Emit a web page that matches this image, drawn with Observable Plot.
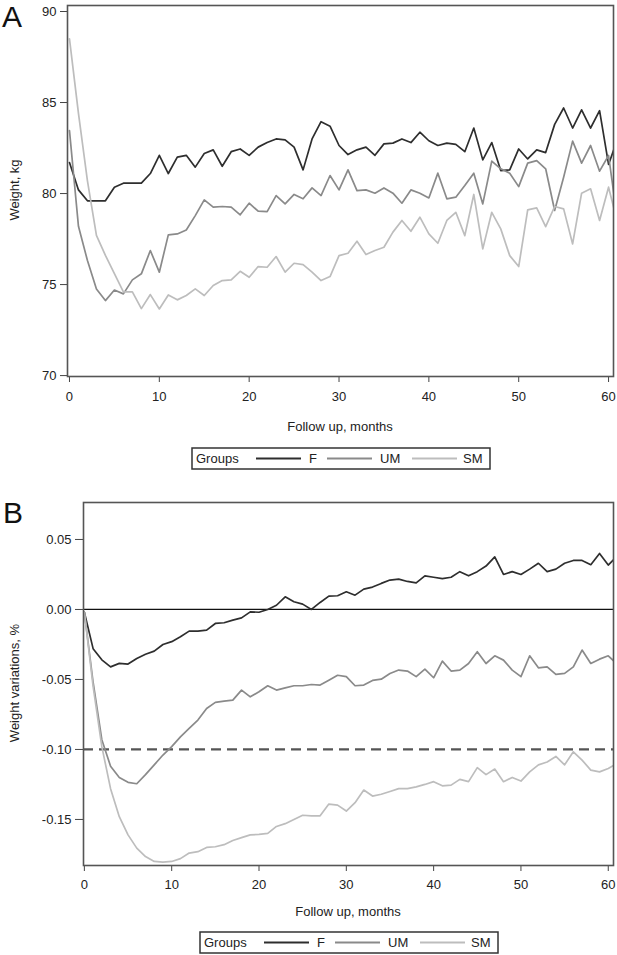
<!DOCTYPE html>
<html>
<head>
<meta charset="utf-8">
<script src="https://cdn.jsdelivr.net/npm/d3@7"></script>
<script src="https://cdn.jsdelivr.net/npm/@observablehq/plot@0.6"></script>
<style>
  html, body { margin: 0; padding: 0; background: #fff; }
  #root { position: relative; width: 617px; height: 955px; overflow: hidden; font-family: "Liberation Sans", Arial, sans-serif; color: #222; }
  .abs { position: absolute; }
  .panel-letter { font-size: 30px; line-height: 1; color: #111; }
  .ylab { font-size: 13px; transform: rotate(-90deg); transform-origin: center center; white-space: nowrap; text-align: center; }
  .xlab { font-size: 13px; white-space: nowrap; text-align: center; }
</style>
</head>
<body>
<div id="root"></div>
<script>
// ---- data ----
const months = d3.range(0, 62);
const groups = ["F", "UM", "SM"];
const groupColors = ["#2e2e2e", "#8a8a8a", "#bdbdbd"];
const xTicks = [0, 10, 20, 30, 40, 50, 60];
const weightTicks = [70, 75, 80, 85, 90];
const variationTicks = [-0.15, -0.10, -0.05, 0.00, 0.05];

// Panel A: weight, kg
const weightF = [81.7, 80.2, 79.6, 79.6, 79.6, 80.35, 80.57, 80.57, 80.57, 81.1,
  82.1, 81.1, 82.0, 82.1, 81.45, 82.2, 82.4, 81.5, 82.3, 82.45,
  82.1, 82.55, 82.8, 83.0, 82.95, 82.55, 81.3, 83.0, 83.95, 83.7,
  82.64, 82.14, 82.4, 82.55, 82.1, 82.73, 82.77, 83.0, 82.8, 83.37,
  82.9, 82.64, 82.77, 82.7, 82.3, 83.6, 81.85, 82.8, 81.26, 81.3,
  82.45, 81.9, 82.4, 82.25, 83.8, 84.7, 83.6, 84.6, 83.6, 84.55,
  81.6, 83.0];
const weightUM = [83.46, 78.2, 76.32, 74.76, 74.12, 74.7, 74.49, 75.26, 75.59, 76.87,
  75.68, 77.73, 77.78, 78.0, 78.79, 79.65, 79.25, 79.29, 79.25, 78.83,
  79.47, 79.03, 79.01, 79.89, 79.43, 79.95, 79.71, 80.31, 79.89, 80.99,
  80.2, 81.3, 80.16, 80.2, 80.02, 80.31, 80.02, 79.47, 80.2, 80.02,
  79.76, 81.12, 79.71, 79.8, 80.44, 81.12, 79.43, 81.78, 81.36, 81.12,
  80.38, 81.67, 81.81, 81.36, 79.07, 80.9, 82.88, 81.67, 82.64, 81.23,
  82.09, 78.5];
const weightSM = [88.5, 84.4, 80.7, 77.7, 76.6, 75.6, 74.6, 74.6, 73.68, 74.45,
  73.66, 74.43, 74.16, 74.4, 74.76, 74.4, 74.95, 75.22, 75.26, 75.73,
  75.4, 75.99, 75.95, 76.54, 75.68, 76.17, 76.1, 75.68, 75.22, 75.44,
  76.59, 76.72, 77.38, 76.65, 76.87, 77.05, 77.88, 78.52, 77.93, 78.7,
  77.78, 77.27, 78.52, 78.97, 77.69, 79.95, 76.96, 78.97, 78.06, 76.59,
  75.99, 79.1, 79.21, 78.18, 79.29, 79.16, 77.23, 80.02, 80.26, 78.52,
  80.35, 78.4];

// Panel B: weight variations, %
const variationF = [-0.002, -0.028, -0.036, -0.041, -0.0385, -0.039, -0.035, -0.032, -0.0298, -0.025,
  -0.023, -0.0195, -0.0155, -0.0155, -0.0148, -0.010, -0.0095, -0.0076, -0.006, -0.0017,
  -0.002, 0.000, 0.003, 0.009, 0.0055, 0.0038, 0.000, 0.005, 0.0095, 0.0098,
  0.0126, 0.0102, 0.0145, 0.016, 0.0186, 0.021, 0.0217, 0.020, 0.019, 0.024,
  0.023, 0.022, 0.023, 0.027, 0.024, 0.027, 0.031, 0.0376, 0.025, 0.027,
  0.025, 0.0288, 0.033, 0.027, 0.0288, 0.033, 0.035, 0.035, 0.032, 0.040,
  0.0317, 0.038];
const variationUM = [-0.002, -0.052, -0.093, -0.112, -0.120, -0.1235, -0.1245, -0.118, -0.111, -0.104,
  -0.098, -0.091, -0.085, -0.079, -0.0707, -0.0664, -0.0655, -0.0648, -0.0576, -0.0624,
  -0.0588, -0.0545, -0.0576, -0.056, -0.0545, -0.0545, -0.0536, -0.054, -0.0505, -0.047,
  -0.048, -0.0545, -0.054, -0.0507, -0.0498, -0.0457, -0.0433, -0.044, -0.048, -0.0426,
  -0.0488, -0.0369, -0.044, -0.0433, -0.0386, -0.0302, -0.0386, -0.0331, -0.0362, -0.0433,
  -0.048, -0.0331, -0.0417, -0.041, -0.0464, -0.0457, -0.041, -0.029, -0.0386, -0.0355,
  -0.0331, -0.039];
const variationSM = [-0.002, -0.055, -0.098, -0.128, -0.148, -0.161, -0.1705, -0.1765, -0.180, -0.1805,
  -0.180, -0.178, -0.174, -0.173, -0.170, -0.1695, -0.168, -0.165, -0.163, -0.161,
  -0.1607, -0.160, -0.155, -0.153, -0.150, -0.147, -0.1474, -0.1474, -0.139, -0.1398,
  -0.144, -0.138, -0.129, -0.1333, -0.132, -0.130, -0.128, -0.128, -0.1267, -0.125,
  -0.123, -0.126, -0.1255, -0.1214, -0.123, -0.113, -0.118, -0.114, -0.123, -0.120,
  -0.1226, -0.116, -0.111, -0.109, -0.105, -0.111, -0.1017, -0.1076, -0.1148, -0.116,
  -0.1136, -0.110];

// ---- build tables ----
function longTable(seriesList) {
  const rows = [];
  seriesList.forEach((vals, gi) => {
    vals.forEach((v, i) => rows.push({month: months[i], value: v, group: groups[gi]}));
  });
  return rows;
}
const tableA = longTable([weightF, weightUM, weightSM]);
const tableB = longTable([variationF, variationUM, variationSM]);

const FONT = '"Liberation Sans", Arial, sans-serif';
const root = document.getElementById("root");

function place(el, left, top) {
  el.style.position = "absolute";
  el.style.left = left + "px";
  el.style.top = top + "px";
  root.appendChild(el);
  return el;
}

function makeText(cls, txt, left, top, w, h) {
  const d = document.createElement("div");
  d.className = "abs " + cls;
  d.textContent = txt;
  d.style.left = left + "px";
  d.style.top = top + "px";
  if (w != null) d.style.width = w + "px";
  if (h != null) { d.style.height = h + "px"; d.style.lineHeight = h + "px"; }
  root.appendChild(d);
  return d;
}

function makeLegend(left, top) {
  const W = 298, H = 21;
  const svg = d3.create("svg").attr("width", W + 2).attr("height", H + 2)
    .style("font-family", FONT).style("font-size", "13px");
  svg.append("rect").attr("x", 1).attr("y", 1).attr("width", W).attr("height", H)
    .attr("fill", "white").attr("stroke", "#333").attr("stroke-width", 1.5);
  svg.append("text").attr("x", 5).attr("y", 16).attr("fill", "#222").text("Groups");
  const lineX = [65, 136, 221];
  const labX = [118, 189, 272];
  groups.forEach((g, i) => {
    svg.append("line").attr("x1", lineX[i]).attr("x2", lineX[i] + 45)
      .attr("y1", 11.5).attr("y2", 11.5).attr("stroke", groupColors[i]).attr("stroke-width", 2);
    svg.append("text").attr("x", labX[i]).attr("y", 16).attr("fill", "#222").text(g);
  });
  place(svg.node(), left, top);
}

// ---- Panel A ----
const plotA = Plot.plot({
  width: 617,
  height: 442,
  marginLeft: 67,
  marginRight: 4,
  marginTop: 5,
  marginBottom: 66,
  style: {fontFamily: FONT, fontSize: "13px", color: "#222", background: "transparent", overflow: "visible"},
  x: {domain: [-0.22, 60.55], label: null},
  y: {domain: [69.95, 90.33], label: null},
  color: {domain: groups, range: groupColors},
  marks: [
    Plot.axisX({ticks: xTicks, tickSize: 6, tickPadding: 9, label: null, stroke: "#444"}),
    Plot.axisY({ticks: weightTicks, tickSize: 7, tickPadding: 4, label: null, stroke: "#444"}),
    Plot.line(tableA, {x: "month", y: "value", z: "group", stroke: "group", strokeWidth: 1.7, clip: true}),
    Plot.frame({stroke: "#555", strokeWidth: 1.6})
  ]
});
place(plotA, 0, 0);

makeText("panel-letter", "A", 2, 2);
makeText("ylab", "Weight, kg", -50, 182, 130, 16);
makeText("xlab", "Follow up, months", 240, 419, 200, 16);
makeLegend(191, 447);

// ---- Panel B ----
const plotB = Plot.plot({
  width: 617,
  height: 435,
  marginLeft: 83,
  marginRight: 4,
  marginTop: 22,
  marginBottom: 50,
  style: {fontFamily: FONT, fontSize: "13px", color: "#222", background: "transparent", overflow: "visible"},
  x: {domain: [-0.1, 60.6], label: null},
  y: {domain: [-0.1829, 0.0764], label: null},
  color: {domain: groups, range: groupColors},
  marks: [
    Plot.axisX({ticks: xTicks, tickSize: 6, tickPadding: 8, label: null, stroke: "#444"}),
    Plot.axisY({ticks: variationTicks, tickSize: 8, tickPadding: 4, label: null, stroke: "#444", tickFormat: d => d.toFixed(2)}),
    Plot.ruleY([0], {stroke: "#111", strokeWidth: 1.2}),
    Plot.ruleY([-0.10], {stroke: "#555", strokeWidth: 2.2, strokeDasharray: "10,6"}),
    Plot.line(tableB, {x: "month", y: "value", z: "group", stroke: "group", strokeWidth: 1.7, clip: true}),
    Plot.frame({stroke: "#555", strokeWidth: 1.6})
  ]
});
place(plotB, 0, 480);

makeText("panel-letter", "B", 3, 498);
makeText("ylab", "Weight variations, %", -65, 675, 160, 16);
makeText("xlab", "Follow up, months", 248, 904, 200, 16);
makeLegend(199, 931);
</script>
</body>
</html>
